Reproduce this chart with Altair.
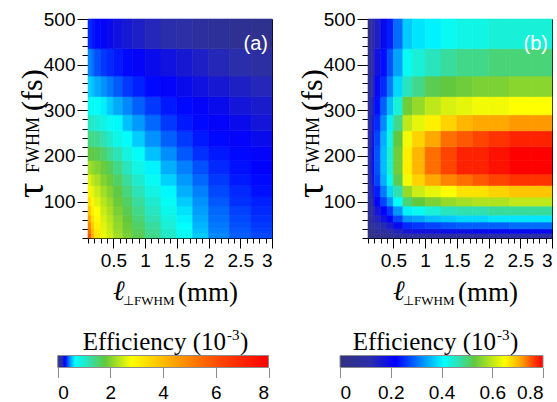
import altair as alt
import pandas as pd

# ---------------- data ----------------
x_edges = [0.1, 0.15, 0.2, 0.3, 0.4, 0.5, 0.65, 0.8, 1.0, 1.25, 1.5, 1.75, 2.0, 2.33, 2.67, 3.0]
tau_edges = [20, 30, 40, 55, 70, 90, 110, 135, 160, 190, 220, 255, 290, 330, 375, 435, 500]

# efficiency (1e-3), rows from tau=20 (bottom) to tau=500 (top), columns along x_edges
eff_a = [
    [6.0, 4.2, 3.3, 2.7, 2.5, 2.2, 1.95, 1.7, 1.4, 1.05, 0.75, 0.57, 0.45, 0.4, 0.37],
    [5.5, 4.0, 3.2, 2.65, 2.45, 2.15, 1.9, 1.65, 1.35, 1.0, 0.72, 0.55, 0.44, 0.39, 0.36],
    [5.0, 3.7, 3.05, 2.6, 2.4, 2.1, 1.85, 1.6, 1.3, 0.95, 0.68, 0.53, 0.43, 0.38, 0.35],
    [4.4, 3.4, 2.9, 2.55, 2.35, 2.05, 1.8, 1.5, 1.2, 0.88, 0.64, 0.51, 0.42, 0.37, 0.34],
    [3.9, 3.1, 2.8, 2.45, 2.25, 1.95, 1.7, 1.4, 1.1, 0.8, 0.61, 0.49, 0.41, 0.36, 0.33],
    [3.4, 2.9, 2.6, 2.35, 2.15, 1.85, 1.6, 1.3, 1.0, 0.72, 0.57, 0.47, 0.39, 0.34, 0.32],
    [3.0, 2.65, 2.45, 2.2, 2.0, 1.75, 1.45, 1.15, 0.85, 0.65, 0.52, 0.44, 0.37, 0.33, 0.3],
    [2.6, 2.4, 2.25, 2.0, 1.85, 1.6, 1.3, 1.0, 0.74, 0.58, 0.48, 0.41, 0.35, 0.31, 0.29],
    [2.2, 2.1, 2.0, 1.85, 1.65, 1.4, 1.1, 0.84, 0.64, 0.52, 0.44, 0.38, 0.33, 0.3, 0.28],
    [1.8, 1.75, 1.7, 1.55, 1.35, 1.15, 0.87, 0.7, 0.55, 0.46, 0.39, 0.34, 0.31, 0.29, 0.27],
    [1.45, 1.4, 1.35, 1.2, 1.0, 0.82, 0.69, 0.57, 0.47, 0.4, 0.35, 0.31, 0.29, 0.27, 0.25],
    [1.1, 1.05, 0.95, 0.85, 0.75, 0.65, 0.55, 0.48, 0.41, 0.35, 0.31, 0.29, 0.27, 0.25, 0.22],
    [0.76, 0.73, 0.69, 0.63, 0.57, 0.51, 0.45, 0.4, 0.35, 0.31, 0.29, 0.27, 0.25, 0.22, 0.2],
    [0.58, 0.55, 0.51, 0.47, 0.43, 0.39, 0.35, 0.32, 0.29, 0.27, 0.25, 0.23, 0.21, 0.19, 0.17],
    [0.45, 0.42, 0.38, 0.35, 0.33, 0.31, 0.29, 0.27, 0.25, 0.23, 0.21, 0.19, 0.17, 0.15, 0.12],
    [0.33, 0.31, 0.29, 0.27, 0.25, 0.23, 0.21, 0.19, 0.17, 0.15, 0.13, 0.11, 0.09, 0.07, 0.05],
]

eff_b = [
    [0.01, 0.02, 0.03, 0.04, 0.05, 0.07, 0.08, 0.08, 0.09, 0.09, 0.09, 0.09, 0.10, 0.10, 0.10],
    [0.02, 0.04, 0.07, 0.09, 0.11, 0.14, 0.17, 0.18, 0.18, 0.19, 0.19, 0.20, 0.20, 0.20, 0.20],
    [0.04, 0.07, 0.10, 0.13, 0.16, 0.20, 0.25, 0.26, 0.27, 0.28, 0.29, 0.29, 0.29, 0.30, 0.30],
    [0.05, 0.09, 0.14, 0.18, 0.22, 0.27, 0.33, 0.34, 0.36, 0.37, 0.38, 0.38, 0.39, 0.39, 0.39],
    [0.06, 0.11, 0.17, 0.22, 0.26, 0.33, 0.40, 0.42, 0.44, 0.46, 0.47, 0.47, 0.48, 0.48, 0.48],
    [0.07, 0.13, 0.21, 0.27, 0.33, 0.41, 0.50, 0.53, 0.55, 0.57, 0.58, 0.59, 0.59, 0.60, 0.60],
    [0.08, 0.15, 0.24, 0.31, 0.38, 0.47, 0.57, 0.61, 0.63, 0.65, 0.67, 0.67, 0.68, 0.69, 0.69],
    [0.09, 0.17, 0.27, 0.35, 0.42, 0.52, 0.64, 0.68, 0.71, 0.73, 0.74, 0.75, 0.76, 0.77, 0.77],
    [0.10, 0.18, 0.28, 0.36, 0.44, 0.54, 0.66, 0.70, 0.74, 0.76, 0.78, 0.78, 0.79, 0.80, 0.80],
    [0.10, 0.18, 0.28, 0.36, 0.44, 0.54, 0.66, 0.70, 0.74, 0.76, 0.78, 0.78, 0.79, 0.80, 0.80],
    [0.09, 0.17, 0.27, 0.35, 0.43, 0.53, 0.64, 0.68, 0.71, 0.74, 0.75, 0.76, 0.77, 0.78, 0.78],
    [0.09, 0.16, 0.25, 0.32, 0.40, 0.49, 0.60, 0.63, 0.66, 0.68, 0.70, 0.71, 0.71, 0.72, 0.72],
    [0.08, 0.14, 0.23, 0.29, 0.36, 0.44, 0.54, 0.57, 0.60, 0.62, 0.63, 0.64, 0.64, 0.65, 0.65],
    [0.07, 0.12, 0.20, 0.25, 0.31, 0.38, 0.46, 0.49, 0.52, 0.53, 0.54, 0.55, 0.55, 0.56, 0.56],
    [0.06, 0.11, 0.18, 0.23, 0.28, 0.34, 0.42, 0.44, 0.46, 0.48, 0.49, 0.49, 0.50, 0.50, 0.50],
    [0.05, 0.10, 0.15, 0.20, 0.24, 0.30, 0.37, 0.39, 0.40, 0.42, 0.43, 0.43, 0.44, 0.44, 0.44],
]

x_major = [0.5, 1, 1.5, 2, 2.5, 3]
x_minor = [0.1, 0.2, 0.3, 0.4, 0.5, 0.6, 0.7, 0.8, 0.9, 1.0, 1.1, 1.2, 1.3, 1.4, 1.5,
           1.6, 1.7, 1.8, 1.9, 2.0, 2.1, 2.2, 2.3, 2.4, 2.5, 2.6, 2.7, 2.8, 2.9, 3.0]
tau_major = [100, 200, 300, 400, 500]
tau_minor = [20, 40, 60, 80, 100, 120, 140, 160, 180, 200, 220, 240, 260, 280, 300,
             320, 340, 360, 380, 400, 420, 440, 460, 480, 500]

cbar_ticks_a = [0, 2, 4, 6, 8]
cbar_ticks_b = [0, 0.2, 0.4, 0.6, 0.8]

palette = ["#31327f", "#2b2eab", "#0000ff", "#0088ff", "#00ffff", "#30e0b0",
           "#62c83e", "#ffff00", "#ff9900", "#ff4400", "#ff0000"]
stops_a = [0, 0.15, 0.28, 0.45, 0.66, 1.2, 1.8, 2.8, 4.6, 6.2, 8]
stops_b = [0, 0.12, 0.22, 0.32, 0.41, 0.47, 0.53, 0.65, 0.72, 0.76, 0.8]

panel_tags = ["(a)", "(b)"]
y_title = ["τ", "FWHM", "(fs)"]
x_title = ["ℓ", "⊥FWHM", "(mm)"]
cb_title = ["Efficiency (10", "-3", ")"]

SANS = "Liberation Sans"
SERIF = "Liberation Serif"


def cells(table):
    rows = []
    for i, row in enumerate(table):
        for j, v in enumerate(row):
            rows.append(dict(x0=x_edges[j], x1=x_edges[j + 1],
                             t0=tau_edges[i], t1=tau_edges[i + 1], v=v))
    return pd.DataFrame(rows)


one = pd.DataFrame({"k": [0]})


def txt(s, x, y, size, font=SERIF, angle=0, align="left", color="black",
        italic=False, baseline="alphabetic"):
    kw = dict(text=s, fontSize=size, font=font, align=align, baseline=baseline, color=color)
    if angle:
        kw["angle"] = angle
    if italic:
        kw["fontStyle"] = "italic"
    return alt.Chart(one).mark_text(**kw).encode(x=alt.value(x), y=alt.value(y))


def panel(table, stops, tag, cb_ticks, cb_range, cb_shift):
    df = cells(table)
    cb_max = stops[-1]
    xs = alt.Scale(domain=[0.1, 3], nice=False, zero=False)
    ys = alt.Scale(domain=[20, 500], nice=False, zero=False)
    cs = alt.Scale(domain=stops, range=palette, interpolate="rgb", clamp=True)

    heat = alt.Chart(df).mark_rect(strokeWidth=0.6).encode(
        x=alt.X("x0:Q", scale=xs, axis=alt.Axis(values=x_major, format="~g", orient="bottom",
                                                  tickSize=10, labelPadding=3, title=None)),
        x2="x1:Q",
        y=alt.Y("t0:Q", scale=ys, axis=alt.Axis(values=tau_major, format="d", orient="left",
                                                  tickSize=11, labelPadding=2, title=None)),
        y2="t1:Q",
        color=alt.Color("v:Q", scale=cs, legend=None),
        stroke=alt.Stroke("v:Q", scale=cs, legend=None),
    )
    minor = alt.Chart(df).mark_point(opacity=0).encode(
        x=alt.X("x0:Q", scale=xs, axis=alt.Axis(values=x_minor, labels=False, domain=False,
                                                  orient="bottom", tickSize=5, title=None)),
        y=alt.Y("t0:Q", scale=ys, axis=alt.Axis(values=tau_minor, labels=False, domain=False,
                                                  orient="left", tickSize=6, title=None)),
    )
    cb_df = pd.DataFrame({"lo": [0], "hi": [cb_max]})
    gstops = [alt.GradientStop(offset=d / cb_max, color=c) for d, c in zip(stops, palette)]
    cbar = alt.Chart(cb_df).mark_rect(
        fill=alt.Gradient(gradient="linear", stops=gstops, x1=0, x2=1, y1=0, y2=0),
        stroke="#8c8c8c", strokeWidth=1,
    ).encode(
        x=alt.X("lo:Q", scale=alt.Scale(domain=[0, cb_max], range=cb_range, nice=False, zero=False),
                axis=alt.Axis(values=cb_ticks, format="~g", orient="bottom", offset=129.5,
                              tickSize=10, tickColor="#8c8c8c", domain=False, labelPadding=6,
                              title=None)),
        x2="hi:Q",
        y=alt.value(336.5),
        y2=alt.value(348.5),
    )
    texts = [
        txt(tag, 180, 31, 20, font=SANS, align="right", color="white"),
        txt(y_title[0], -45, 179, 38, angle=270),
        txt(y_title[1], -49, 154, 18, angle=270),
        txt(y_title[2], -46, 92, 30, angle=270),
        txt(x_title[0], 25, 281, 28, italic=True),
        txt(x_title[1], 35, 286, 13),
        txt(x_title[2], 90, 282, 27),
        txt(cb_title[0], 138 + cb_shift, 331, 25, align="right"),
        txt(cb_title[1], 139 + cb_shift, 321, 15),
        txt(cb_title[2], 152 + cb_shift, 331, 25),
    ]
    return alt.layer(heat, minor, cbar, *texts).resolve_scale(
        x="independent", y="independent"
    ).resolve_axis(x="independent", y="independent").properties(width=184, height=219)


pa = panel(eff_a, stops_a, panel_tags[0], cbar_ticks_a, [-30.3, 180.5], 0)
pb = panel(eff_b, stops_b, panel_tags[1], cbar_ticks_b, [-28, 175], -10)

chart = alt.hconcat(pa, pb, spacing=96, bounds="flush").resolve_scale(
    x="independent", y="independent", color="independent", stroke="independent"
).properties(
    autosize=alt.AutoSizeParams(type="none"),
    padding={"left": 88, "top": 19, "right": 469, "bottom": 383},
).configure_view(stroke="black", strokeWidth=1).configure_axis(
    labelFont=SANS, labelFontSize=19, labelColor="black", tickColor="black",
    domainColor="black", grid=False,
)

chart.save("out.html", embed_options={"renderer": "svg", "actions": False})
